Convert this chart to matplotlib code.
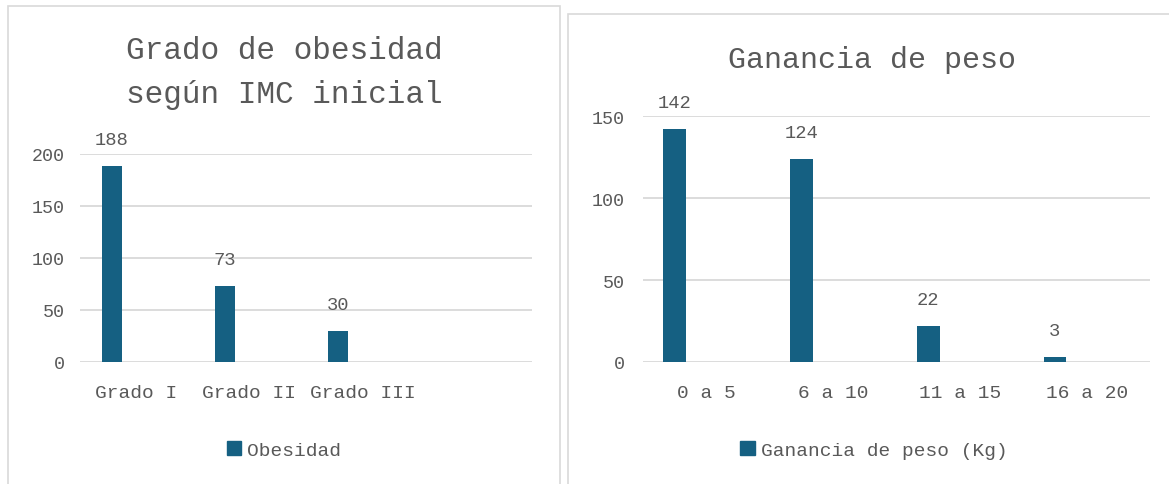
import matplotlib
matplotlib.use("Agg")
import matplotlib.pyplot as plt
from matplotlib.patches import Rectangle, Patch

# ---- data ----
left_title = "Grado de obesidad\nsegún IMC inicial"
left_categories = ["Grado I", "Grado II", "Grado III", ""]
left_values = [188, 73, 30, None]
left_series = "Obesidad"
left_yticks = [0, 50, 100, 150, 200]

right_title = "Ganancia de peso"
right_categories = ["0 a 5", "6 a 10", "11 a 15", "16 a 20"]
right_values = [142, 124, 22, 3]
right_series = "Ganancia de peso (Kg)"
right_yticks = [0, 50, 100, 150]

BAR = "#156082"
TXT = "#595959"
GRID = "#d9d9d9"
FONT = "Liberation Mono"

plt.rcParams['font.family'] = [FONT, 'DejaVu Sans']

W, H = 1169, 485
fig = plt.figure(figsize=(W / 100, H / 100), dpi=100)

def fx(px):
    return px / W

def fy(py):
    return 1 - py / H

# panel borders
fig.patches.append(Rectangle((fx(8), fy(490)), fx(560) - fx(8), fy(7) - fy(490),
                             transform=fig.transFigure, fill=False, edgecolor=GRID, lw=1.2))
fig.patches.append(Rectangle((fx(568), fy(490)), fx(1175) - fx(568), fy(15) - fy(490),
                             transform=fig.transFigure, fill=False, edgecolor=GRID, lw=1.2))


def make_panel(rect, cats, vals, yticks, offset, width, ypad):
    ax = fig.add_axes(rect)
    xs = [i for i, v in enumerate(vals) if v is not None]
    vs = [v for v in vals if v is not None]
    bars = ax.bar([x + offset for x in xs], vs, width=width, color=BAR, zorder=3)
    ax.bar_label(bars, labels=[str(v) for v in vs], padding=13, fontsize=13.5, color=TXT)
    ax.set_xlim(-0.5, len(cats) - 0.5)
    ax.set_ylim(0, yticks[-1])
    ax.set_yticks(yticks)
    ax.set_yticklabels([str(t) for t in yticks])
    ax.set_xticks(range(len(cats)))
    ax.set_xticklabels(cats)
    for s in ax.spines.values():
        s.set_visible(False)
    ax.tick_params(axis='y', length=0, pad=ypad, labelsize=13.2, labelcolor=TXT)
    ax.tick_params(axis='x', length=0, pad=16, labelsize=14, labelcolor=TXT)
    ax.grid(axis='y', color=GRID, lw=1.3, zorder=0)
    ax.set_axisbelow(True)
    ax.patch.set_alpha(0)
    return ax

axL = make_panel([fx(80), fy(363), fx(532) - fx(80), fy(155) - fy(363)],
                 left_categories, left_values, left_yticks, -0.217, 0.177, 11)
axR = make_panel([fx(643), fy(363), fx(1150) - fx(643), fy(117) - fy(363)],
                 right_categories, right_values, right_yticks, -0.25, 0.18, 13)

# titles
fig.text(fx(284), fy(73), left_title, ha='center', va='center', fontsize=22.4,
         color=TXT, linespacing=1.62)
fig.text(fx(872), fy(60), right_title, ha='center', va='center', fontsize=21.6, color=TXT)

# legends
for cx, label in [(284, left_series), (874, right_series)]:
    fig.legend(handles=[Patch(color=BAR, label=label)], loc='center',
               bbox_to_anchor=(fx(cx), fy(451)), frameon=False, fontsize=14,
               labelcolor=TXT, handlelength=0.75, handleheight=0.75, handletextpad=0.3)

fig.savefig("out.png", dpi=100)
